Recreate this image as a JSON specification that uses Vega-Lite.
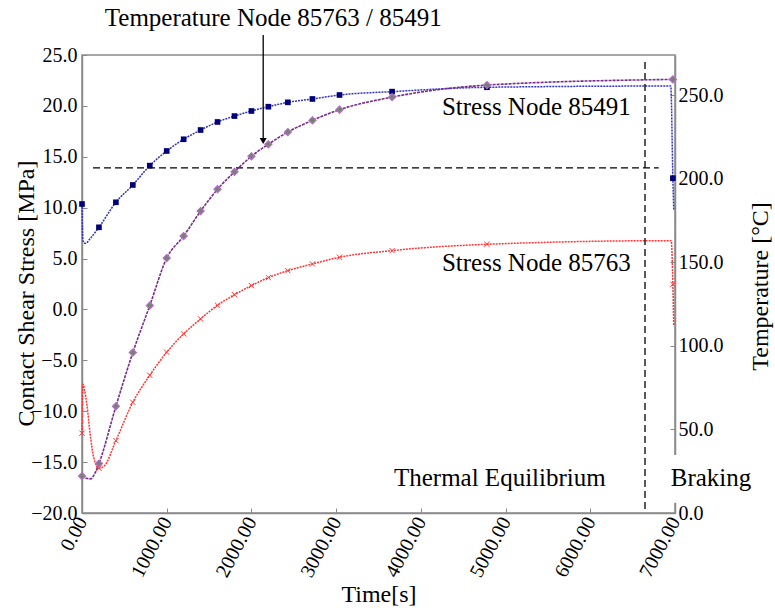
{
  "$schema": "https://vega.github.io/schema/vega-lite/v6.json",
  "width": 593,
  "height": 458,
  "autosize": {"type": "none"},
  "padding": {"left": 82, "top": 55, "right": 100, "bottom": 102},
  "background": "white",
  "config": {
    "font": "Liberation Serif",
    "view": {"stroke": "#8a8a8a", "strokeWidth": 1.5},
    "style": {
      "guide-label": {"font": "Liberation Serif", "fontSize": 20, "fill": "black"},
      "guide-title": {"font": "Liberation Serif", "fontSize": 24, "fontWeight": "normal", "fill": "black"}
    },
    "axis": {
      "labelFont": "Liberation Serif",
      "labelFontSize": 20,
      "labelColor": "black",
      "titleFont": "Liberation Serif",
      "titleFontSize": 24,
      "titleFontWeight": "normal",
      "titleColor": "black",
      "domainColor": "#8a8a8a",
      "domainWidth": 1.5,
      "tickColor": "#8a8a8a",
      "tickSize": -5,
      "grid": false
    },
    "text": {"font": "Liberation Serif", "fontSize": 25, "color": "black"}
  },
  "datasets": {
    "blue": [
      {"t": 0, "v": 10.36, "m": 1},
      {"t": 10, "v": 6.8, "m": 0},
      {"t": 40, "v": 6.5, "m": 0},
      {"t": 100, "v": 7.0, "m": 0},
      {"t": 200, "v": 8.07, "m": 1},
      {"t": 400, "v": 10.53, "m": 1},
      {"t": 600, "v": 12.23, "m": 1},
      {"t": 800, "v": 14.13, "m": 1},
      {"t": 1000, "v": 15.57, "m": 1},
      {"t": 1200, "v": 16.72, "m": 1},
      {"t": 1400, "v": 17.63, "m": 1},
      {"t": 1600, "v": 18.42, "m": 1},
      {"t": 1800, "v": 19.0, "m": 1},
      {"t": 2000, "v": 19.5, "m": 1},
      {"t": 2200, "v": 19.92, "m": 1},
      {"t": 2430, "v": 20.35, "m": 1},
      {"t": 2720, "v": 20.68, "m": 1},
      {"t": 3040, "v": 21.07, "m": 1},
      {"t": 3660, "v": 21.4, "m": 1},
      {"t": 4780, "v": 21.83, "m": 1},
      {"t": 6950, "v": 21.95, "m": 0},
      {"t": 6975, "v": 12.9, "m": 1},
      {"t": 6985, "v": 9.8, "m": 0}
    ],
    "red": [
      {"t": 0, "v": -12.16, "m": 1},
      {"t": 10, "v": -7.35, "m": 0},
      {"t": 30, "v": -7.9, "m": 0},
      {"t": 60, "v": -9.5, "m": 0},
      {"t": 100, "v": -12.5, "m": 0},
      {"t": 140, "v": -14.6, "m": 0},
      {"t": 200, "v": -15.6, "m": 1},
      {"t": 260, "v": -15.4, "m": 0},
      {"t": 400, "v": -12.89, "m": 1},
      {"t": 600, "v": -9.12, "m": 1},
      {"t": 800, "v": -6.47, "m": 1},
      {"t": 1000, "v": -4.2, "m": 1},
      {"t": 1200, "v": -2.4, "m": 1},
      {"t": 1400, "v": -0.93, "m": 1},
      {"t": 1600, "v": 0.41, "m": 1},
      {"t": 1800, "v": 1.45, "m": 1},
      {"t": 2000, "v": 2.34, "m": 1},
      {"t": 2200, "v": 3.13, "m": 1},
      {"t": 2430, "v": 3.81, "m": 1},
      {"t": 2720, "v": 4.47, "m": 1},
      {"t": 3040, "v": 5.13, "m": 1},
      {"t": 3660, "v": 5.78, "m": 1},
      {"t": 4780, "v": 6.4, "m": 1},
      {"t": 6955, "v": 6.76, "m": 0},
      {"t": 6975, "v": 2.47, "m": 1},
      {"t": 6985, "v": -1.6, "m": 0}
    ],
    "temp": [
      {"t": 0, "v": 22.1, "m": 1},
      {"t": 50, "v": 20.8, "m": 0},
      {"t": 100, "v": 20.4, "m": 0},
      {"t": 150, "v": 23.5, "m": 0},
      {"t": 200, "v": 29.6, "m": 1},
      {"t": 400, "v": 63.8, "m": 1},
      {"t": 600, "v": 96.0, "m": 1},
      {"t": 800, "v": 124.1, "m": 1},
      {"t": 1000, "v": 152.5, "m": 1},
      {"t": 1200, "v": 165.7, "m": 1},
      {"t": 1400, "v": 180.6, "m": 1},
      {"t": 1600, "v": 193.7, "m": 1},
      {"t": 1800, "v": 204.1, "m": 1},
      {"t": 2000, "v": 213.4, "m": 1},
      {"t": 2200, "v": 220.6, "m": 1},
      {"t": 2430, "v": 227.9, "m": 1},
      {"t": 2720, "v": 234.9, "m": 1},
      {"t": 3040, "v": 241.3, "m": 1},
      {"t": 3660, "v": 248.8, "m": 1},
      {"t": 4780, "v": 256.0, "m": 1},
      {"t": 6975, "v": 259.4, "m": 1}
    ],
    "dashes": [
      {"t": 130, "t2": 6808, "v": 13.9, "v2": 13.9},
      {"t": 6646, "t2": 6646, "v": 24.3, "v2": -20}
    ],
    "arrow": [
      {"t": 2139, "t2": 2139, "v": 26.96, "v2": 16.8}
    ],
    "arrowhead": [
      {"t": 2139, "v": 16.55}
    ],
    "mask": [
      {"t": 6935, "t2": 7500, "v": -14.3, "v2": -19.0}
    ]
  },
  "layer": [
    {
      "encoding": {
        "x": {
          "field": "t", "type": "quantitative",
          "scale": {"domain": [0, 7000], "nice": false, "zero": false},
          "axis": {"title": "Time[s]", "values": [0, 1000, 2000, 3000, 4000, 5000, 6000, 7000], "format": ".2f", "labelAngle": -62, "labelPadding": 10, "titlePadding": 2, "labelFont": "Liberation Serif", "titleFont": "Liberation Serif", "labelFontSize": 20, "titleFontSize": 24}
        },
        "y": {
          "field": "v", "type": "quantitative",
          "scale": {"domain": [-20, 25], "nice": false, "zero": false},
          "axis": {"title": "Contact Shear Stress [MPa]", "orient": "left", "values": [-20, -15, -10, -5, 0, 5, 10, 15, 20, 25], "format": ".1f", "labelPadding": 10, "labelFont": "Liberation Serif", "titleFont": "Liberation Serif", "labelFontSize": 20, "titleFontSize": 24, "titleAngle": 270, "titleAlign": "center", "titleBaseline": "top", "titleX": -68, "titleY": 238}
        }
      },
      "layer": [
        {
          "data": {"name": "blue"},
          "mark": {"type": "line", "interpolate": "monotone", "color": "#3333bb", "strokeWidth": 1.5, "strokeDash": [2, 1]}
        },
        {
          "data": {"name": "blue"},
          "transform": [{"filter": "datum.m == 1"}],
          "mark": {"type": "point", "shape": "square", "filled": true, "color": "#00007a", "size": 32, "opacity": 1}
        },
        {
          "data": {"name": "red"},
          "mark": {"type": "line", "interpolate": "monotone", "color": "#ff3535", "strokeWidth": 1.5, "strokeDash": [2, 1]}
        },
        {
          "data": {"name": "red"},
          "transform": [{"filter": "datum.m == 1"}],
          "mark": {"type": "point", "shape": "M-1,-1L1,1M-1,1L1,-1", "filled": false, "color": "#ff3535", "size": 28, "strokeWidth": 1, "opacity": 1}
        },
        {
          "data": {"name": "dashes"},
          "mark": {"type": "rule", "color": "black", "strokeWidth": 1.3, "strokeDash": [7, 4]},
          "encoding": {"x2": {"field": "t2"}, "y2": {"field": "v2"}}
        },
        {
          "data": {"name": "arrow"},
          "mark": {"type": "rule", "color": "black", "strokeWidth": 1.3},
          "encoding": {"x2": {"field": "t2"}, "y2": {"field": "v2"}}
        },
        {
          "data": {"name": "arrowhead"},
          "mark": {"type": "point", "shape": "triangle-down", "filled": true, "color": "black", "size": 50, "opacity": 1}
        },
        {
          "data": {"name": "mask"},
          "mark": {"type": "rect", "color": "white", "opacity": 1},
          "encoding": {"x2": {"field": "t2"}, "y2": {"field": "v2"}}
        },
        {
          "data": {"values": [{"label": "Temperature Node 85763 / 85491", "t": 2258, "v": 28.6}]},
          "mark": {"type": "text", "align": "center", "baseline": "middle", "font": "Liberation Serif", "fontSize": 25},
          "encoding": {"text": {"field": "label"}}
        },
        {
          "data": {"values": [
            {"label": "Stress Node 85491", "t": 6478, "v": 19.9},
            {"label": "Stress Node 85763", "t": 6478, "v": 4.57},
            {"label": "Thermal Equilibrium", "t": 6182, "v": -16.55}
          ]},
          "mark": {"type": "text", "align": "right", "baseline": "middle", "font": "Liberation Serif", "fontSize": 25},
          "encoding": {"text": {"field": "label"}}
        },
        {
          "data": {"values": [{"label": "Braking", "t": 6950, "v": -16.55}]},
          "mark": {"type": "text", "align": "left", "baseline": "middle", "font": "Liberation Serif", "fontSize": 25},
          "encoding": {"text": {"field": "label"}}
        }
      ]
    },
    {
      "data": {"name": "temp"},
      "encoding": {
        "x": {"field": "t", "type": "quantitative", "scale": {"domain": [0, 7000], "nice": false, "zero": false}},
        "y": {
          "field": "v", "type": "quantitative",
          "scale": {"domain": [0, 274], "nice": false, "zero": false},
          "axis": {"title": "Temperature [°C]", "orient": "right", "values": [0, 50, 100, 150, 200, 250], "format": ".1f", "labelPadding": 8, "labelFont": "Liberation Serif", "titleFont": "Liberation Serif", "labelFontSize": 20, "titleFontSize": 24, "titleAngle": 270, "titleAlign": "center", "titleBaseline": "bottom", "titleX": 97, "titleY": 231}
        }
      },
      "layer": [
        {
          "mark": {"type": "line", "interpolate": "monotone", "color": "#7a2a8c", "strokeWidth": 1.6, "strokeDash": [3, 1]}
        },
        {
          "transform": [{"filter": "datum.m == 1"}],
          "mark": {"type": "point", "shape": "diamond", "filled": true, "color": "#70886a", "stroke": "#b868cc", "strokeWidth": 1.2, "size": 50, "opacity": 1}
        }
      ]
    }
  ],
  "resolve": {"scale": {"y": "independent"}}
}
